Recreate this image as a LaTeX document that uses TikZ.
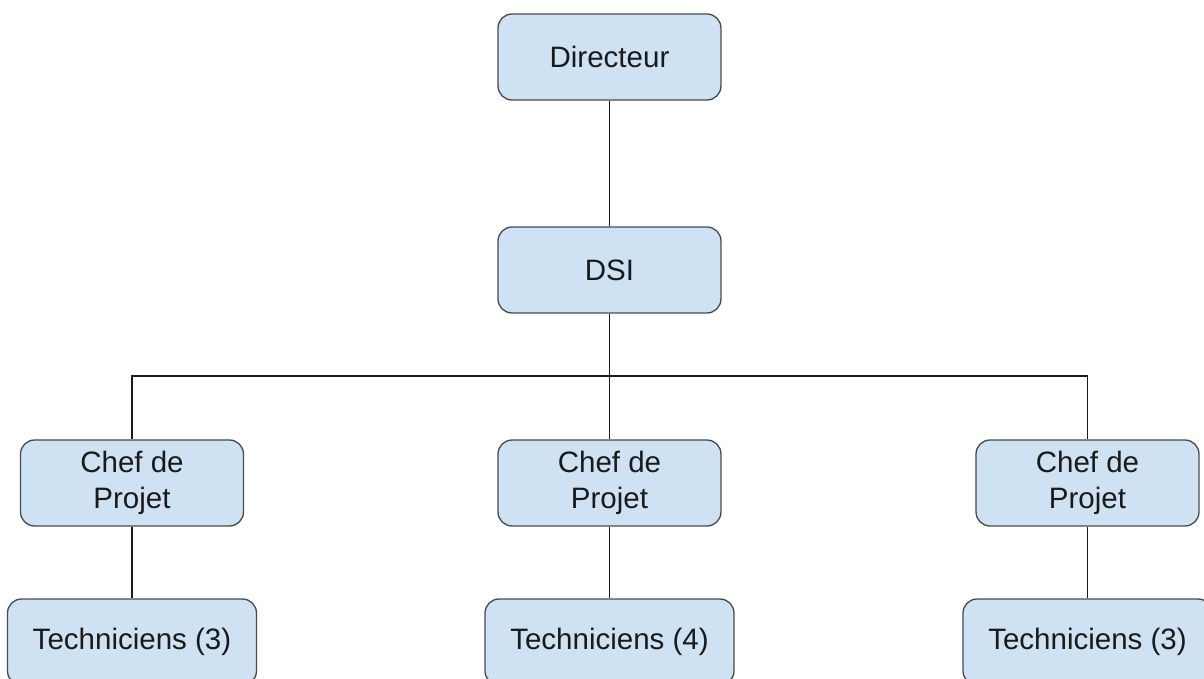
\documentclass[tikz,border=0pt]{standalone}
\usepackage{fontspec}
\setmainfont{Liberation Sans}
\usepackage{tikz}
\usetikzlibrary{positioning}
\definecolor{BoxFill}{HTML}{CFE2F3}
\definecolor{BoxEdge}{HTML}{4A4A4A}
\definecolor{Ink}{HTML}{1A1A1A}

\begin{document}
\begin{tikzpicture}[
  x=0.02cm, y=-0.02cm,
  post/.style={draw=BoxEdge, fill=BoxFill, rounded corners=0.28cm, line width=0.75pt,
    minimum width=4.46cm, minimum height=1.72cm, align=center, inner sep=2pt,
    font=\fontsize{16.8}{20.4}\selectfont, text=Ink},
  team/.style={post, minimum width=4.98cm},
  link/.style={draw=Ink, line width=0.75pt},
]
\useasboundingbox (0,0) rectangle (1204,679);
\node[post] (dir) at (609.5,57) {Directeur};
\node[post] (dsi) at (609.5,270) {DSI};
\node[post] (chefA) at (132,483) {Chef de\\Projet};
\node[post] (chefB) at (609.5,483) {Chef de\\Projet};
\node[post] (chefC) at (1087.5,483) {Chef de\\Projet};
\node[team] (techA) at (132,642) {Techniciens (3)};
\node[team] (techB) at (609.5,642) {Techniciens (4)};
\node[team] (techC) at (1087.5,642) {Techniciens (3)};
\coordinate (bus) at (609.5,376);
\draw[link] (dir) -- (dsi);
\draw[link] (dsi) -- (bus);
\draw[link] (chefA) |- (bus) -| (chefC);
\draw[link] (bus) -- (chefB);
\draw[link] (chefA) -- (techA);
\draw[link] (chefB) -- (techB);
\draw[link] (chefC) -- (techC);
\end{tikzpicture}
\end{document}
